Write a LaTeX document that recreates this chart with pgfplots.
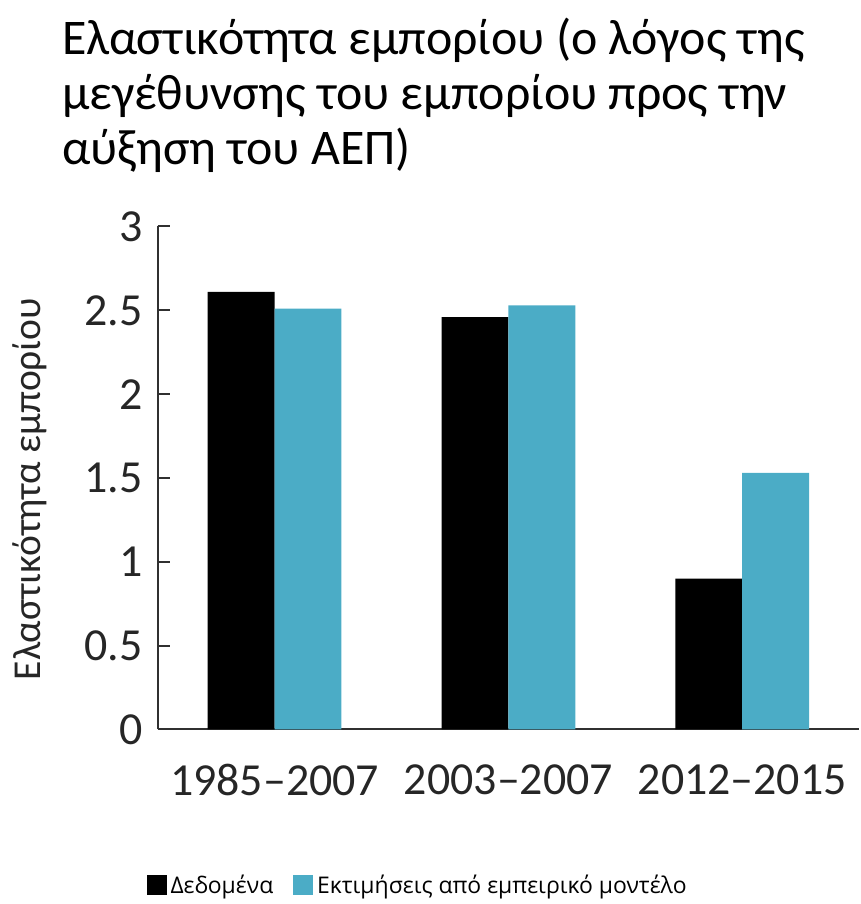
\documentclass[border=0pt]{standalone}
\usepackage{fontspec}
\setmainfont{Carlito}
\newfontfamily\legendfont{Open Sans}
\usepackage{pgfplots}
\pgfplotsset{compat=1.18}
\definecolor{barblue}{HTML}{4BACC6}
\definecolor{axisgray}{HTML}{303030}
\begin{document}
\begin{tikzpicture}
\begin{axis}[
  width=351.5pt, height=252pt, scale only axis,
  ybar=0pt, bar width=33.5pt,
  xmin=-0.5, xmax=2.5, ymin=0, ymax=3,
  xtick={0,1,2},
  xticklabels={1985\textendash2007,2003\textendash2007,2012\textendash2015},
  ytick={0,0.5,...,3},
  axis x line=bottom, axis y line=left,
  axis line style={axisgray, line width=1pt, -},
  x tick style={draw=none},
  y tick style={axisgray, line width=1pt},
  tick align=inside, major tick length=6pt,
  /pgf/number format/assume math mode=true,
  tick label style={font=\fontsize{23}{27}\selectfont, text=black!85},
  xticklabel style={yshift=-14pt},
  yticklabel style={xshift=-4pt},
  clip=false,
  legend style={at={(rel axis cs:0.372,-0.31)}, anchor=center, draw=none,
    legend columns=2, font=\legendfont\fontsize{11.5}{14}\selectfont,
    /tikz/every even column/.append style={column sep=8pt}},
  legend image code/.code={\fill[#1] (0pt,-5pt) rectangle (10pt,5pt);},
]
\addplot[fill=black, draw=none] coordinates {(0,2.61) (1,2.46) (2,0.90)};
\addplot[fill=barblue, draw=none] coordinates {(0,2.51) (1,2.53) (2,1.53)};
\legend{Δεδομένα, Εκτιμήσεις από εμπειρικό μοντέλο}
\node[anchor=north west, align=left, font=\fontsize{25}{27.5}\selectfont, inner sep=0pt]
  at (rel axis cs:-0.1366,1.415) {Ελαστικότητα εμπορίου (ο λόγος της\\μεγέθυνσης του εμπορίου προς την\\αύξηση του ΑΕΠ)};
\node[rotate=90, font=\fontsize{19.8}{23}\selectfont, text=black!85]
  at (rel axis cs:-0.182,0.478) {Ελαστικότητα εμπορίου};
\path (rel axis cs:-0.2248,1.4504) rectangle (rel axis cs:1.0,-0.3433);
\end{axis}
\end{tikzpicture}
\end{document}
